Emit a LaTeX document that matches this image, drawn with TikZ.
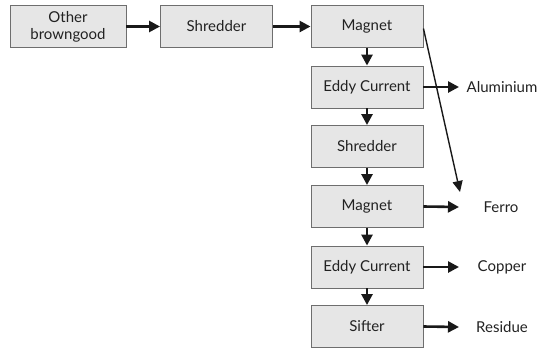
\documentclass[tikz,border=0pt]{standalone}
\usepackage{fontspec}
\setmainfont{Lato}
\usetikzlibrary{arrows.meta}
\definecolor{boxfill}{HTML}{E6E6E6}
\definecolor{boxdraw}{HTML}{6E6E6E}
\definecolor{txt}{HTML}{222222}
\begin{document}
\begin{tikzpicture}[x=1pt,y=-1pt,
  procbox/.style={draw=boxdraw,fill=boxfill,line width=0.9pt,minimum width=112pt,minimum height=42pt,inner sep=0pt,align=center,text=txt,font=\fontsize{15}{17}\selectfont},
  outlbl/.style={text=txt,font=\fontsize{15}{17}\selectfont},
  flow/.style={line width=2.6pt,draw=black!90,-{Triangle[length=11pt,width=11pt]}},
  thin/.style={line width=1.4pt,draw=black!90,-{Triangle[length=11pt,width=10pt]}}]
\useasboundingbox (0,0) rectangle (537,351);
\node[procbox,minimum width=116pt] (ob) at (68,26.5) {Other\\browngood};
\node[procbox] (sh1) at (216.5,26.5) {Shredder};
\node[procbox] (mg1) at (367,26.5) {Magnet};
\node[procbox] (ec1) at (367,87) {Eddy Current};
\node[procbox] (sh2) at (367,146.5) {Shredder};
\node[procbox] (mg2) at (367,206.5) {Magnet};
\node[procbox] (ec2) at (367,267) {Eddy Current};
\node[procbox] (sf) at (367,326.5) {Sifter};
\node[outlbl] (al) at (502,87) {Aluminium};
\node[outlbl] (fe) at (501,207) {Ferro};
\node[outlbl] (cu) at (502,267) {Copper};
\node[outlbl] (re) at (502,327) {Residue};
\coordinate (fetip) at (460,192);
\draw[flow] (ob) -- (sh1);
\draw[flow] (sh1) -- (mg1);
\draw[flow] (mg1) -- (ec1);
\draw[flow] (ec1) -- (sh2);
\draw[flow] (sh2) -- (mg2);
\draw[flow] (mg2) -- (ec2);
\draw[flow] (ec2) -- (sf);
\draw[flow] (ec1.east) -- (459,87);
\draw[flow] (mg2.east) -- (459,207);
\draw[flow] (ec2.east) -- (459,267);
\draw[flow] (sf.east) -- (459,327);
\draw[thin] ([yshift=-2pt]mg1.east) -- (fetip);
\end{tikzpicture}
\end{document}
